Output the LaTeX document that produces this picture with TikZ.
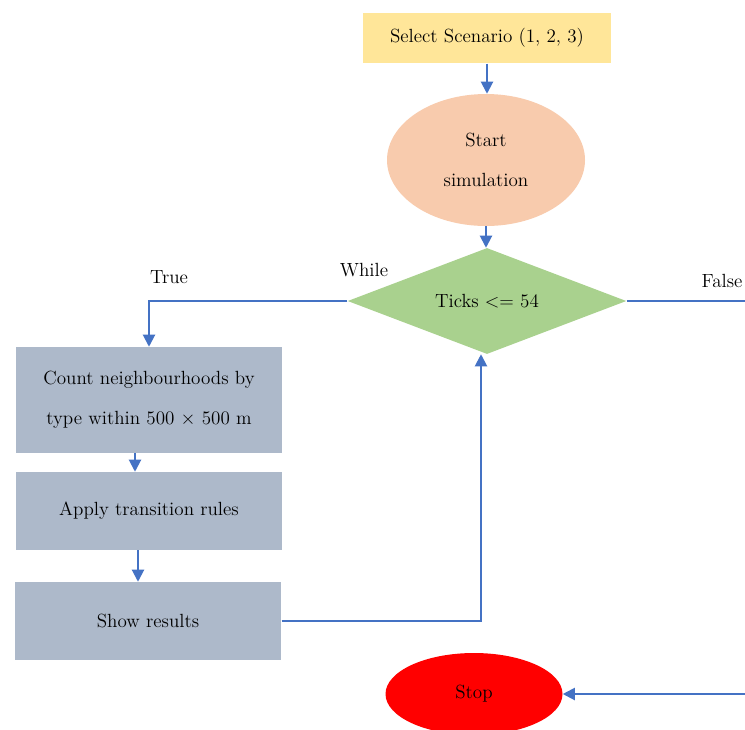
\documentclass[tikz,border=0pt]{standalone}
\usepackage{amsmath}
\usepackage{tikz}
\usetikzlibrary{shapes.geometric,arrows.meta}

\definecolor{lineblue}{HTML}{4472C4}
\definecolor{boxgrey}{HTML}{ADB9CA}

\begin{document}
\begin{tikzpicture}[x=0.75pt,y=-0.75pt,
		every node/.style = {font=\fontsize{14.3}{30}\selectfont, align=center, inner sep=0pt},
		flow/.style = {draw=lineblue, line width=1.5pt, -{Triangle[length=9pt,width=9pt]}},
		link/.style = {draw=lineblue, line width=1.5pt},
		stepbox/.style = {rectangle, fill=boxgrey, minimum width=200pt}]
				\useasboundingbox (0,0) rectangle (745,729);
				\clip (0,0) rectangle (745,729);

				\node[rectangle, fill={rgb,255:red,255;green,230;blue,153}, minimum width=186pt, minimum height=38pt] (select) at (487,38) {Select Scenario (1, 2, 3)};
				\node[ellipse, fill={rgb,255:red,248;green,203;blue,173}, minimum width=148.5pt, minimum height=99pt] (start) at (486,160) {Start\\simulation};
				\node[diamond, fill={rgb,255:red,169;green,209;blue,142}, aspect=2.6, minimum width=209pt, minimum height=79.5pt] (ticks) at (487,301) {Ticks <= 54};
				\node[stepbox, minimum height=79.5pt] (count) at (149,400) {Count neighbourhoods by\\type within 500 $\times$ 500 m};
				\node[stepbox, minimum height=58.5pt] (apply) at (149,511) {Apply transition rules};
				\node[stepbox, minimum height=58.5pt] (show) at (148,621) {Show results};
				\node[ellipse, fill=red, minimum width=132.75pt, minimum height=61.5pt] (stop) at (474,694) {Stop};

				\node (while) at (364,270) {While};
				\node (true) at (169,277) {True};
				\node (false) at (722,281) {False};

			\draw[flow] (select) -- (select |- start.north);
			\draw[flow] (start) -- (start |- ticks.north);
			\draw[flow] (ticks.west) -| (count.north);
			\draw[flow] (135,0 |- count.south) -- (135,0 |- apply.north);
			\draw[flow] (138,0 |- apply.south) -- (138,0 |- show.north);
			\draw[flow] (show.east) -| ([xshift=-4.5pt]ticks.south);
			\draw[link] (ticks.east) -- (770,301) -- (770,694);
			\draw[flow] (770,694) -- (stop.east);
		\end{tikzpicture}
\end{document}
